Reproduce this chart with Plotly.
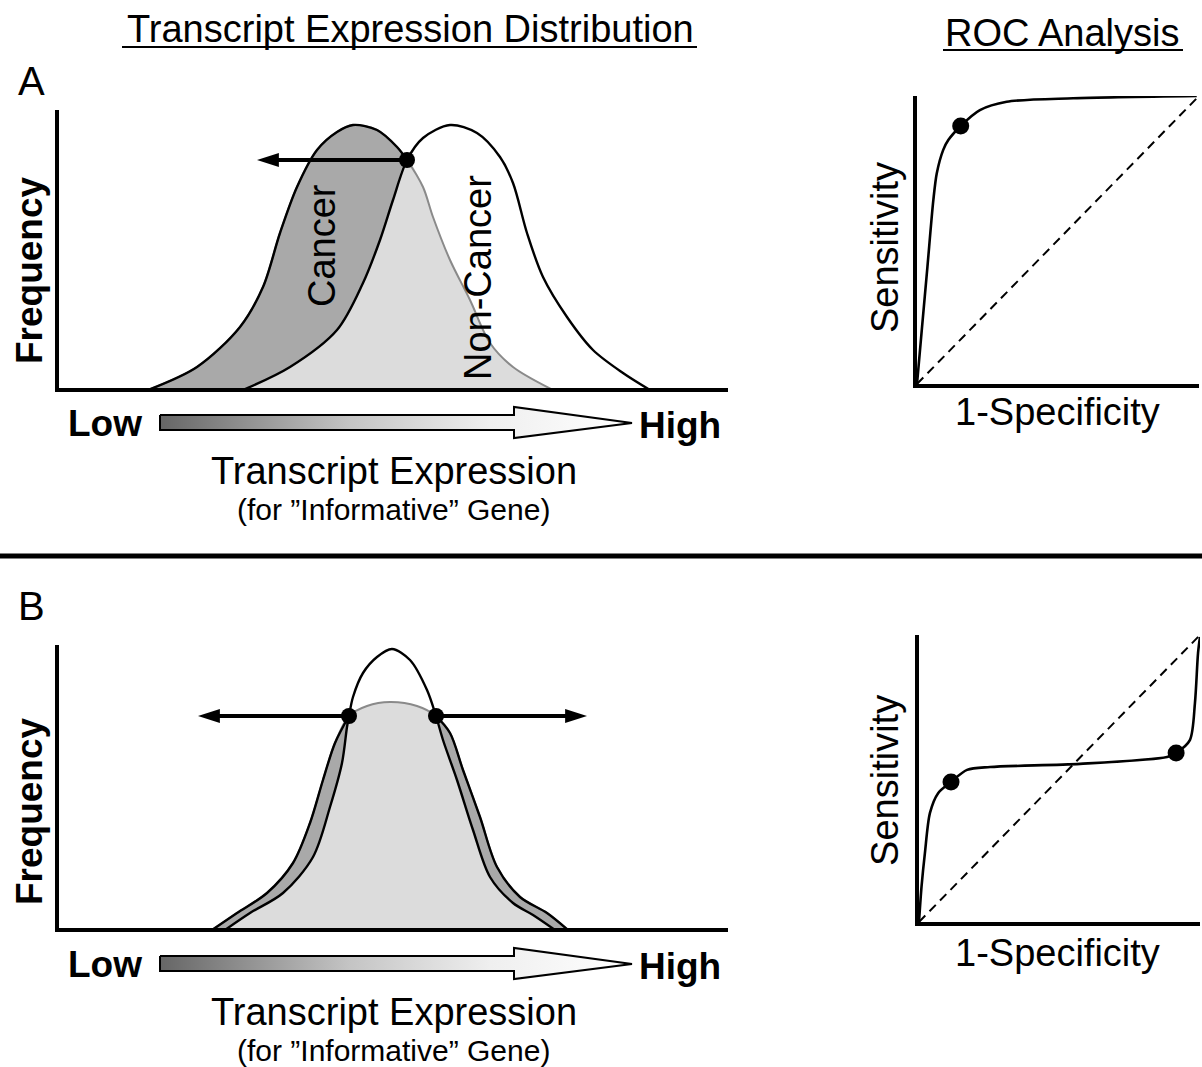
import plotly.graph_objects as go

W, H = 1202, 1067

# ---------------- data ----------------
# Panel A: expression distributions (expression units, frequency units)
cancer_a_x = [91, 140, 183, 206, 223, 240, 260, 280, 296, 320, 340, 350, 366, 376, 393, 413, 433, 456, 496]
cancer_a_y = [0, 23, 63, 103, 157, 203, 240, 258, 265, 260, 243, 230, 203, 173, 130, 90, 47, 23, 0]
noncancer_a_x = [186, 233, 280, 306, 323, 336, 350, 366, 393, 420, 443, 456, 470, 486, 510, 536, 566, 593]
noncancer_a_y = [0, 23, 60, 107, 150, 190, 230, 252, 265, 257, 233, 207, 157, 113, 73, 40, 17, 0]
threshold_a_x = [350]
threshold_a_y = [230]
arrow_a_end_x = [200]

# Panel B: expression distributions
cancer_b_x = [155, 180, 210, 236, 253, 266, 278, 292, 310, 333, 360, 379, 393, 406, 423, 440, 463, 490, 511]
cancer_b_y = [0, 17, 37, 67, 107, 150, 187, 214, 224, 228, 224, 214, 197, 160, 113, 63, 33, 17, 0]
noncancer_b_x = [168, 193, 226, 256, 273, 285, 290, 292, 296, 306, 320, 335, 353, 370, 379, 386, 400, 416, 433, 456, 476, 498]
noncancer_b_y = [0, 17, 37, 73, 123, 167, 203, 214, 233, 257, 273, 281, 270, 240, 214, 190, 150, 100, 53, 27, 15, 0]
threshold_b_x = [292, 379]
threshold_b_y = [214, 214]
arrow_b_end_x = [141, 530]

# ROC curves (1-specificity, sensitivity)
roc_a_fpr = [0, 0.018, 0.037, 0.058, 0.070, 0.093, 0.111, 0.155, 0.223, 0.318, 0.554, 0.992]
roc_a_tpr = [0, 0.199, 0.407, 0.639, 0.731, 0.813, 0.847, 0.896, 0.951, 0.980, 0.992, 1.0]
roc_a_point = [0.155, 0.896]

roc_b_fpr = [0, 0.009, 0.021, 0.039, 0.068, 0.114, 0.171, 0.253, 0.573, 0.883, 0.915, 0.964, 0.982, 0.993, 1.0]
roc_b_tpr = [0, 0.123, 0.240, 0.380, 0.449, 0.488, 0.530, 0.540, 0.551, 0.575, 0.589, 0.634, 0.763, 0.937, 0.993]
roc_b_points_fpr = [0.114, 0.915]
roc_b_points_tpr = [0.488, 0.589]

chance_line = [0, 1]

# Low -> High gradient arrow outline (canvas pixels), panel offsets
grad_arrow_x = [160, 514, 514, 632, 514, 514, 160, 160]
grad_arrow_y = [415, 415, 407, 423, 438, 430, 430, 415]
panel_offsets = [0, 541]

# ---------------- styling ----------------
FONT = "Liberation Sans, Arial, Helvetica, sans-serif"
DARK = "#a9a9a9"
LIGHT = "#dcdcdc"
GREYLINE = "#8a8a8a"
LW = 2.4

fig = go.Figure()


def dom_x(p0, p1):
    return [p0 / W, p1 / W]


def dom_y(top, bottom):
    return [1 - bottom / H, 1 - top / H]


def spl(xs, ys, **kw):
    return go.Scatter(x=xs, y=ys, mode="lines", line=dict(shape="spline", smoothing=0.9), **kw)


def dist_panel(cx, cy, nx, ny, tx, ty, arrow_ends, xa, ya):
    # cancer area (dark)
    fig.add_trace(spl(cx, cy, fill="tozeroy", fillcolor=DARK, line_width=0, xaxis=xa, yaxis=ya))
    # overlap area (light): non-cancer outside thresholds, cancer between
    lo, hi = min(tx), max(tx)
    if len(tx) == 1:
        ox = [x for x in nx if x <= lo] + [x for x in cx if x > lo]
        oy = [y for x, y in zip(nx, ny) if x <= lo] + [y for x, y in zip(cx, cy) if x > lo]
    else:
        ox = [x for x in nx if x <= lo] + [x for x in cx if lo < x < hi] + [x for x in nx if x >= hi]
        oy = ([y for x, y in zip(nx, ny) if x <= lo] + [y for x, y in zip(cx, cy) if lo < x < hi]
              + [y for x, y in zip(nx, ny) if x >= hi])
    fig.add_trace(spl(ox, oy, fill="tozeroy", fillcolor=LIGHT, line_width=0, xaxis=xa, yaxis=ya))
    # cancer curve: grey where under the non-cancer curve, black elsewhere
    fig.add_trace(spl(cx, cy, line_color=GREYLINE, line_width=2, xaxis=xa, yaxis=ya))
    fig.add_trace(spl([x for x in cx if x <= lo], [y for x, y in zip(cx, cy) if x <= lo],
                      line_color="black", line_width=LW, xaxis=xa, yaxis=ya))
    if len(tx) > 1:
        fig.add_trace(spl([x for x in cx if x >= hi], [y for x, y in zip(cx, cy) if x >= hi],
                          line_color="black", line_width=LW, xaxis=xa, yaxis=ya))
    fig.add_trace(spl(nx, ny, line_color="black", line_width=LW, xaxis=xa, yaxis=ya))
    # threshold arrows
    for x0, y0, xe in zip(tx, ty, arrow_ends):
        d = 1 if xe > x0 else -1
        fig.add_trace(go.Scatter(x=[x0, xe - d * 12], y=[y0, y0], mode="lines",
                                 line=dict(color="black", width=4), xaxis=xa, yaxis=ya, cliponaxis=False))
        fig.add_trace(go.Scatter(x=[xe], y=[y0], mode="markers", xaxis=xa, yaxis=ya, cliponaxis=False,
                                 marker=dict(symbol="arrow", size=23, angle=90 * d, color="black",
                                             line_width=0)))
    fig.add_trace(go.Scatter(x=tx, y=ty, mode="markers", xaxis=xa, yaxis=ya, cliponaxis=False,
                             marker=dict(size=16, color="black", line_width=0)))


dist_panel(cancer_a_x, cancer_a_y, noncancer_a_x, noncancer_a_y, threshold_a_x, threshold_a_y,
           arrow_a_end_x, "x", "y")
dist_panel(cancer_b_x, cancer_b_y, noncancer_b_x, noncancer_b_y, threshold_b_x, threshold_b_y,
           arrow_b_end_x, "x2", "y2")

# ROC panels
for fpr, tpr, px, py, xa, ya in [
    (roc_a_fpr, roc_a_tpr, [roc_a_point[0]], [roc_a_point[1]], "x3", "y3"),
    (roc_b_fpr, roc_b_tpr, roc_b_points_fpr, roc_b_points_tpr, "x4", "y4"),
]:
    fig.add_trace(go.Scatter(x=chance_line, y=chance_line, mode="lines", xaxis=xa, yaxis=ya,
                             line=dict(color="black", width=2, dash="9px,6px"), cliponaxis=False))
    fig.add_trace(go.Scatter(x=fpr, y=tpr, mode="lines", xaxis=xa, yaxis=ya, cliponaxis=False,
                             line=dict(color="black", width=2.6, shape="spline", smoothing=0.8)))
    fig.add_trace(go.Scatter(x=px, y=py, mode="markers", xaxis=xa, yaxis=ya, cliponaxis=False,
                             marker=dict(size=17, color="black", line_width=0)))

# gradient Low->High arrows on canvas axis
for off in panel_offsets:
    fig.add_trace(go.Scatter(x=grad_arrow_x, y=[v + off for v in grad_arrow_y], mode="lines",
                             fill="toself", line=dict(color="black", width=2),
                             fillgradient=dict(type="horizontal",
                                               colorscale=[[0, "#666666"], [0.4, "#c4c4c4"],
                                                           [0.7, "#efefef"], [1, "#ffffff"]]),
                             xaxis="x5", yaxis="y5"))

hidden = dict(showgrid=False, zeroline=False, showticklabels=False, ticks="", fixedrange=True)
axline = dict(showline=True, linewidth=4, linecolor="black")

fig.update_layout(
    width=W, height=H, autosize=False,
    margin=dict(l=0, r=0, t=0, b=0),
    paper_bgcolor="white", plot_bgcolor="rgba(0,0,0,0)",
    showlegend=False, hovermode=False,
    xaxis=dict(domain=dom_x(59, 728), range=[2, 671], anchor="y", **hidden, **axline),
    yaxis=dict(domain=dom_y(110, 388), range=[2, 280], anchor="x", **hidden, **axline),
    xaxis2=dict(domain=dom_x(59, 728), range=[2, 671], anchor="y2", **hidden, **axline),
    yaxis2=dict(domain=dom_y(645, 928), range=[2, 285], anchor="x2", **hidden, **axline),
    xaxis3=dict(domain=dom_x(917, 1199), range=[0, 1], anchor="y3", **hidden, **axline),
    yaxis3=dict(domain=dom_y(96, 384), range=[0, 1], anchor="x3", **hidden, **axline),
    xaxis4=dict(domain=dom_x(919, 1200), range=[0, 1], anchor="y4", **hidden, **axline),
    yaxis4=dict(domain=dom_y(635, 922), range=[0, 1], anchor="x4", **hidden, **axline),
    xaxis5=dict(domain=[0, 1], range=[0, W], anchor="y5", visible=False, **hidden),
    yaxis5=dict(domain=[0, 1], range=[H, 0], anchor="x5", visible=False, **hidden),
)


def label(text, x, y, size=38, bold=False, angle=0):
    fig.add_annotation(text=f"<b>{text}</b>" if bold else text, x=x, y=y, xref="x5", yref="y5",
                       showarrow=False, textangle=angle, xanchor="center", yanchor="middle",
                       font=dict(family=FONT, size=size, color="black"))


label("Transcript Expression Distribution", 410, 29)
label("ROC Analysis", 1062, 33)
for off, letter, ly in [(0, "A", 81), (541, "B", 606)]:
    label(letter, 31, ly, size=40)
    label("Frequency", 29, 270 + off, size=37, bold=True, angle=-90)
    label("Low", 105, 423 + off, size=37, bold=True)
    label("High", 680, 425 + off, size=37, bold=True)
    label("Transcript Expression", 394, 471 + off, size=38)
    label("(for \u201dInformative\u201d Gene)", 393, 509 + off, size=30)
    label("Sensitivity", 885, 248 + off * 0.985, size=38, angle=-90)
    label("1-Specificity", 1057, 412 + off, size=38)
label("Cancer", 322, 246, angle=-90)
label("Non-Cancer", 478, 278, angle=-90)

# underlines and separator
for x0, x1, y in [(122, 697, 47), (943, 1183, 50)]:
    fig.add_shape(type="line", x0=x0, x1=x1, y0=y, y1=y, xref="x5", yref="y5",
                  line=dict(color="black", width=2))
fig.add_shape(type="line", x0=0, x1=W, y0=556, y1=556, xref="x5", yref="y5",
              line=dict(color="black", width=5))

fig.write_html("out.html", config={"displayModeBar": False, "staticPlot": True},
               post_script="document.body.style.margin='0';document.body.style.padding='0';")
